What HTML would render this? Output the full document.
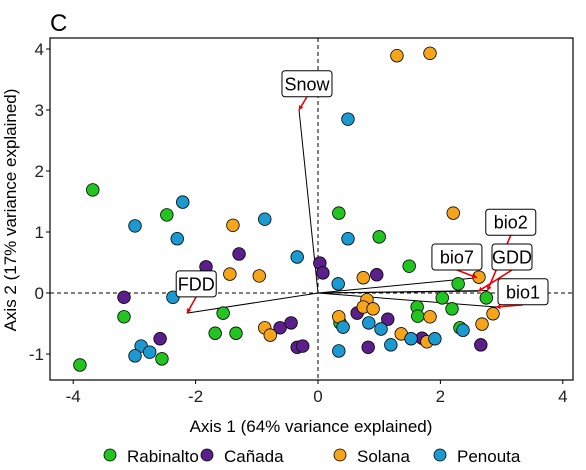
<!DOCTYPE html>
<html><head><meta charset="utf-8"><style>
body{margin:0;background:#fff;width:586px;height:465px;overflow:hidden}
svg text{font-family:"Liberation Sans",sans-serif}
</style></head><body>
<svg id="chart" width="586" height="465" xmlns="http://www.w3.org/2000/svg">
<text x="50" y="31" font-size="24">C</text>
<g id="plot"></g>
</svg>
<script>
const groups = ["Rabinalto","Cañada","Solana","Penouta"];
const colors = ["#22c41f","#5b1f8c","#f6a41a","#1a9ad0"];
const greenX = [-3.68,-2.47,-3.17,-1.55,-1.68,-1.34,-2.55,-3.89,0.34,1.00,1.49,2.29,2.03,2.75,2.19,1.62,1.63,0.36,2.32];
const greenY = [1.69,1.28,-0.39,-0.33,-0.66,-0.66,-1.08,-1.18,1.31,0.92,0.44,0.15,-0.08,-0.08,-0.26,-0.23,-0.38,-0.49,-0.57];
const purpleX = [-1.29,-1.83,-3.17,-0.62,-0.44,-0.34,-0.25,-2.58,0.03,0.08,0.96,0.64,1.14,1.70,2.66,0.82];
const purpleY = [0.64,0.43,-0.07,-0.57,-0.49,-0.89,-0.87,-0.75,0.49,0.33,0.30,-0.33,-0.43,-0.74,-0.85,-0.89];
const orangeX = [-1.39,-1.44,-0.96,-0.87,-0.78,1.29,1.83,2.21,0.74,2.63,0.80,0.74,0.90,1.83,2.86,0.34,2.68,1.36,1.78];
const orangeY = [1.11,0.31,0.28,-0.57,-0.69,3.89,3.93,1.31,0.25,0.26,-0.11,-0.23,-0.26,-0.39,-0.34,-0.39,-0.51,-0.67,-0.80];
const blueX = [-2.21,-2.99,-0.87,-2.30,-0.34,-2.37,-2.89,-2.99,-2.75,0.49,0.49,0.33,0.41,0.83,1.03,2.37,1.52,1.91,1.19,0.34];
const blueY = [1.49,1.10,1.21,0.89,0.59,-0.07,-0.87,-1.03,-0.97,2.85,0.89,0.15,-0.56,-0.49,-0.59,-0.61,-0.75,-0.75,-0.85,-0.95];
const vecNames = ["Snow","FDD","bio7","bio2","GDD","bio1"];
const vecX = [-0.31,-2.14,2.60,2.77,2.62,2.91];
const vecY = [3.0,-0.33,0.25,0.04,0.03,-0.23];
const labX = [-0.18,-1.99,2.27,3.15,3.17,3.35];
const labY = [3.43,0.15,0.59,1.16,0.59,0.02];
const xTicks = [-4,-2,0,2,4];
const yTicks = [-1,0,1,2,3,4];

const L=50,R=573,T=38,B=380;
const sx=v=>318+v*61.2, sy=v=>293-v*61;
const NS="http://www.w3.org/2000/svg";
const g=document.getElementById('plot');
function mk(tag,attrs,parent){const e=document.createElementNS(NS,tag);for(const k in attrs)e.setAttribute(k,attrs[k]);(parent||g).appendChild(e);return e;}

let e;
e=mk('line',{x1:L,x2:R,y1:sy(0),y2:sy(0),stroke:'#000','stroke-dasharray':'4,3'});


e=mk('line',{x1:sx(0),x2:sx(0),y1:T,y2:B,stroke:'#000','stroke-dasharray':'4,3'});



vecNames.forEach((n,i)=>{
  const l=mk('line',{x1:sx(0),y1:sy(0),x2:sx(vecX[i]),y2:sy(vecY[i]),stroke:'#000','stroke-width':1});
  
  
});

const xs=[greenX,purpleX,orangeX,blueX], ys=[greenY,purpleY,orangeY,blueY];
xs.forEach((arr,gi)=>{arr.forEach((v,j)=>{
  const c=mk('circle',{cx:sx(v),cy:sy(ys[gi][j]),r:6.3,fill:colors[gi],stroke:'#000','stroke-width':0.8});
  
  
});});

vecNames.forEach((n,i)=>{
  const lx=sx(labX[i]), ly=sy(labY[i]);
  const tx=sx(vecX[i]), ty=sy(vecY[i]);
  const w=n.length*10+10, h=26;
  const ld=mk('line',{x1:lx,y1:ly+h/2,x2:tx,y2:ty,stroke:'#e00','stroke-width':1.6});
  
  
  const ang=Math.atan2(ty-(ly+h/2),tx-lx);
  const a1=ang+2.6,a2=ang-2.6;
  const ah=mk('polygon',{points:`${tx},${ty} ${tx+5*Math.cos(a1)},${ty+5*Math.sin(a1)} ${tx+5*Math.cos(a2)},${ty+5*Math.sin(a2)}`,fill:'#e00'});
  
  
  const r=mk('rect',{x:lx-w/2,y:ly-h/2,width:w,height:h,rx:3,fill:'#fff',stroke:'#000','stroke-width':1});
  
  
  const t=mk('text',{x:lx,y:ly+6.5,'text-anchor':'middle','font-size':18});
  t.textContent=n;
  
  
});

e=mk('rect',{x:L,y:T,width:R-L,height:B-T,fill:'none',stroke:'#000','stroke-width':1.2});



xTicks.forEach(v=>{
  const tk=mk('line',{x1:sx(v),x2:sx(v),y1:B,y2:B+4,stroke:'#000'});
  
  
  const t=mk('text',{x:sx(v),y:B+22,'text-anchor':'middle','font-size':17,fill:'#222'});
  t.textContent=v;
  
  
});
yTicks.forEach(v=>{
  const tk=mk('line',{x1:L-4,x2:L,y1:sy(v),y2:sy(v),stroke:'#000'});
  
  
  const t=mk('text',{x:L-6,y:sy(v)+6,'text-anchor':'end','font-size':17,fill:'#222'});
  t.textContent=v;
  
  
});

e=mk('text',{x:311,y:432,'text-anchor':'middle','font-size':17});
e.textContent='Axis 1 (64% variance explained)';


e=mk('text',{x:0,y:0,'text-anchor':'middle','font-size':17,transform:'translate(16,210) rotate(-90)'});
e.textContent='Axis 2 (17% variance explained)';



const legX=[110,207,340,440];
groups.forEach((n,i)=>{
  const c=mk('circle',{cx:legX[i],cy:455,r:6,fill:colors[i],stroke:'#000','stroke-width':0.8});
  
  
  const t=mk('text',{x:legX[i]+17,y:462,'font-size':17});
  t.textContent=n;
  
  
});
</script>
</body></html>
